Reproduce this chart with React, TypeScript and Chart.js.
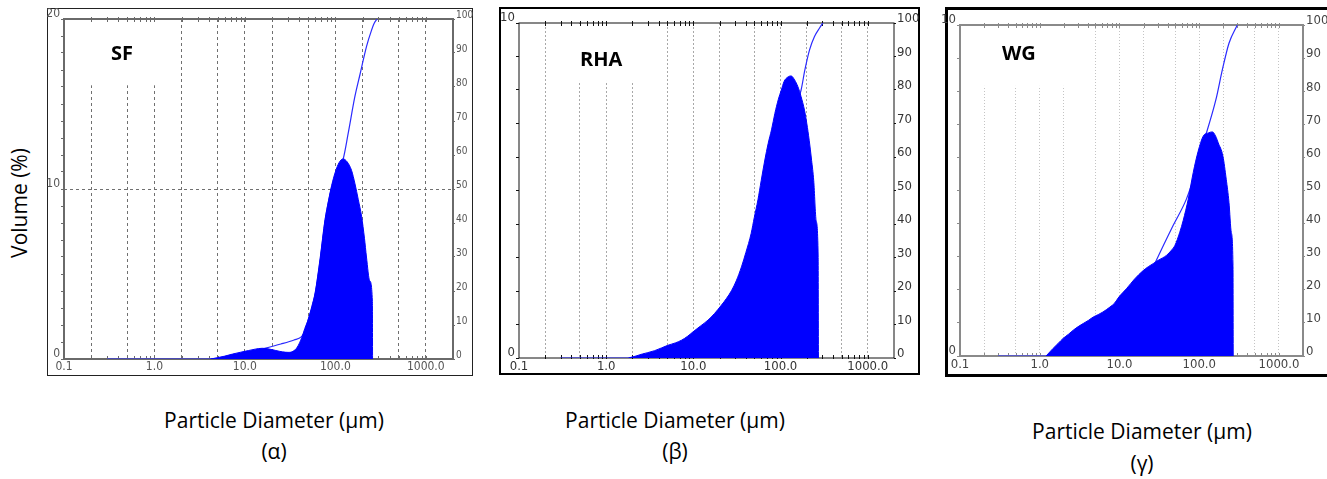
import React, { useEffect, useRef } from 'react';
import { Chart, registerables } from 'chart.js';

Chart.register(...registerables);

// ---------------- DATA ----------------
// X axis (particle diameter, µm, logarithmic)
const X_MIN = 0.1;
const X_MAX = 2000;
const X_GRID_VALUES = [0.2, 0.5, 1, 2, 5, 10, 20, 50, 100, 200, 500, 1000];
const X_LABEL_VALUES = [0.1, 1, 10, 100, 1000];
const X_LABEL_TEXT = ['0.1', '1.0', '10.0', '100.0', '1000.0'];
const X_DECADES = [0.1, 1, 10, 100, 1000];
const X_MINOR_STEPS = [1, 2, 3, 4, 5, 6, 7, 8, 9];

// Right axis (cumulative %)
const CUM_TICKS = [0, 10, 20, 30, 40, 50, 60, 70, 80, 90, 100];

// (α) SF — volume distribution (%) and cumulative (%)
const SF_DIAMETER = [4.2, 5, 6, 7.3, 9, 11, 13, 15.5, 18, 22, 26, 30, 34, 38, 42.6, 46, 50.4, 55, 59.8, 67.8, 76.9, 84, 91, 100, 110, 122, 135, 151, 165, 179, 195, 210, 221, 240, 257, 258];
const SF_VOLUME = [0, 0.08, 0.17, 0.29, 0.4, 0.5, 0.58, 0.63, 0.6, 0.5, 0.42, 0.39, 0.45, 0.7, 1.27, 1.8, 2.35, 3.1, 3.9, 5.9, 8.2, 9.3, 10.2, 11.0, 11.55, 11.77, 11.6, 11.1, 10.3, 9.4, 8.4, 7.1, 6.0, 4.6, 3.4, 0];
const SF_CUM_DIAMETER = [0.3, 4, 6, 8, 10, 13, 17, 25, 35, 42, 46, 50, 55, 60, 68, 77, 91, 105, 122, 139, 164, 187, 221, 250, 270, 290];
const SF_CUMULATIVE = [0, 0, 0.4, 0.9, 1.4, 2.2, 3.2, 4.4, 5.6, 6.5, 8, 11.5, 15, 19.2, 29, 40.5, 50.5, 55.5, 58.8, 66.5, 77, 83.6, 91.9, 96.5, 98.8, 100];

// (β) RHA
const RHA_DIAMETER = [1.8, 2.2, 2.6, 3, 3.6, 4.3, 5.1, 6.2, 7.3, 8.5, 9.9, 12, 14.7, 17.5, 21, 24, 27.5, 31, 35.6, 40, 46, 50, 55, 60, 66, 72, 78.7, 86, 94, 102, 110, 120, 132, 145, 158, 172, 188, 200, 213, 227, 240, 256, 270, 272];
const RHA_VOLUME = [0, 0.06, 0.12, 0.16, 0.22, 0.3, 0.38, 0.45, 0.53, 0.64, 0.78, 0.95, 1.13, 1.33, 1.58, 1.78, 2.02, 2.3, 2.72, 3.15, 3.72, 4.2, 4.72, 5.3, 5.91, 6.4, 6.81, 7.3, 7.71, 8.0, 8.26, 8.38, 8.42, 8.3, 8.1, 7.8, 7.4, 7.0, 6.5, 5.9, 5.3, 4.1, 3.0, 0];
const RHA_CUM_DIAMETER = [0.3, 1.8, 3, 5, 10, 20, 30, 50, 70, 100, 130, 150, 172, 190, 215, 245, 280, 305];
const RHA_CUMULATIVE = [0, 0, 0.3, 1.2, 3.8, 9, 15, 28, 41, 57, 69, 75, 80, 86, 92, 96, 98.5, 100];

// (γ) WG
const WG_DIAMETER = [1.2, 1.47, 1.7, 1.96, 2.3, 2.63, 3, 3.5, 4.1, 4.7, 5.4, 6.2, 7.6, 8.7, 9.8, 12.2, 15.5, 19.8, 23, 26.4, 30.5, 38.8, 45, 49.5, 57, 63, 72.8, 84, 97, 112, 130, 146, 160, 173, 198, 218, 236, 252, 265, 267];
const WG_VOLUME = [0, 0.23, 0.38, 0.53, 0.66, 0.78, 0.88, 0.98, 1.08, 1.18, 1.25, 1.33, 1.48, 1.6, 1.78, 2.03, 2.33, 2.58, 2.7, 2.79, 2.89, 3.04, 3.2, 3.34, 3.74, 4.1, 4.74, 5.54, 6.19, 6.64, 6.74, 6.77, 6.65, 6.44, 6.04, 5.34, 4.64, 3.74, 2.74, 0];
const WG_CUM_DIAMETER = [0.3, 1.2, 1.5, 2, 3, 5, 10, 15, 20, 25, 29, 47, 69, 84, 112, 123, 162, 195, 236, 300];
const WG_CUMULATIVE = [0, 0, 0.3, 1, 2.8, 5.5, 11, 16, 20.5, 25.5, 28.9, 39.4, 47.4, 53.4, 64.4, 67.4, 77.5, 86.5, 94.5, 100];

// ---------------- STYLE / LAYOUT ----------------
const TICK_FAMILY = "'Liberation Sans Narrow', 'DejaVu Sans Condensed', 'Liberation Sans', Arial, sans-serif";
const TEXT_FAMILY = "'Open Sans', 'Noto Sans', sans-serif";

const MINOR_TICKS: number[] = [];
X_DECADES.forEach((d) => X_MINOR_STEPS.forEach((m) => {
  const v = d * m;
  if (v > X_MIN * 1.0001 && v < X_MAX * 0.9999) MINOR_TICKS.push(v);
}));

type Panel = {
  key: string;
  canvas: { left: number; top: number; width: number; height: number };
  frame: { left: number; top: number; width: number; height: number; border: string };
  area: { top: number; left: number; right: number; bottom: number };
  yMax: number;
  yLabelEvery: number;
  hGrid: number[];
  gridColor: string;
  gridDash: number[];
  frameColor: string;
  frameWidth: number;
  tickSize: number;
  rightTickSize: number;
  tickColor: string;
  box: { x0: number; x1: number; y0: number };
  label: { text: string; left: number; top: number };
  distX: number[];
  distY: number[];
  cumX: number[];
  cumY: number[];
};

const PANELS: Panel[] = [
  {
    key: 'SF',
    canvas: { left: 41, top: 8, width: 432, height: 367 },
    frame: { left: 47, top: 8, width: 426, height: 368, border: '1px solid #222' },
    area: { top: 11, left: 23, right: 20, bottom: 16 },
    yMax: 20, yLabelEvery: 10, hGrid: [10],
    gridColor: '#707070', gridDash: [3, 3],
    frameColor: '#6a6a6a', frameWidth: 2,
    tickSize: 12, rightTickSize: 10, tickColor: '#555',
    box: { x0: 0.14, x1: 1.45, y0: 16.1 },
    label: { text: 'SF', left: 111, top: 43 },
    distX: SF_DIAMETER, distY: SF_VOLUME, cumX: SF_CUM_DIAMETER, cumY: SF_CUMULATIVE,
  },
  {
    key: 'RHA',
    canvas: { left: 496, top: 8, width: 423, height: 366 },
    frame: { left: 499, top: 7, width: 421, height: 368, border: '2px solid #000' },
    area: { top: 15, left: 23, right: 25, bottom: 16 },
    yMax: 10, yLabelEvery: 10, hGrid: [],
    gridColor: '#a8a8a8', gridDash: [2, 2],
    frameColor: '#111', frameWidth: 1,
    tickSize: 13, rightTickSize: 13, tickColor: '#333',
    box: { x0: 0.35, x1: 3.0, y0: 8.27 },
    label: { text: 'RHA', left: 580, top: 49 },
    distX: RHA_DIAMETER, distY: RHA_VOLUME, cumX: RHA_CUM_DIAMETER, cumY: RHA_CUMULATIVE,
  },
  {
    key: 'WG',
    canvas: { left: 938, top: 9, width: 389, height: 367 },
    frame: { left: 945, top: 7, width: 400, height: 370, border: '3px solid #000' },
    area: { top: 16, left: 22, right: 24, bottom: 20 },
    yMax: 10, yLabelEvery: 10, hGrid: [],
    gridColor: '#c4c4c4', gridDash: [1, 2],
    frameColor: '#8a8a8a', frameWidth: 2,
    tickSize: 13, rightTickSize: 13, tickColor: '#444',
    box: { x0: 0.15, x1: 3.2, y0: 8.16 },
    label: { text: 'WG', left: 1002, top: 43 },
    distX: WG_DIAMETER, distY: WG_VOLUME, cumX: WG_CUM_DIAMETER, cumY: WG_CUMULATIVE,
  },
];

const CAPTIONS = [
  { center: 274, top1: 410, top2: 441, sub: '(α)' },
  { center: 675, top1: 410, top2: 441, sub: '(β)' },
  { center: 1142, top1: 421, top2: 453, sub: '(γ)' },
];

const decorPlugin = {
  id: 'panelDecor',
  beforeDatasetsDraw(chart: any, _args: any, opts: any) {
    const { ctx, chartArea: a, scales } = chart;
    const x = scales.x;
    const y = scales.y;
    ctx.save();
    if (opts.box) {
      const x0 = x.getPixelForValue(opts.box.x0);
      const x1 = x.getPixelForValue(opts.box.x1);
      const y0 = y.getPixelForValue(opts.box.y0);
      ctx.fillStyle = '#ffffff';
      ctx.fillRect(x0, a.top + 1, x1 - x0, y0 - a.top - 1);
    }
    ctx.strokeStyle = opts.frameColor;
    ctx.lineWidth = opts.frameWidth;
    ctx.strokeRect(a.left, a.top, a.right - a.left, a.bottom - a.top);
    ctx.lineWidth = 1;
    ctx.strokeStyle = opts.tickColor;
    ctx.beginPath();
    MINOR_TICKS.forEach((v) => {
      const px = Math.round(x.getPixelForValue(v)) + 0.5;
      ctx.moveTo(px, a.top - 2);
      ctx.lineTo(px, a.top + 3);
      ctx.moveTo(px, a.bottom - 3);
      ctx.lineTo(px, a.bottom + 1);
    });
    ctx.stroke();
    ctx.restore();
  },
};

function xLabel(v: number): string {
  const i = X_LABEL_VALUES.findIndex((l) => Math.abs(l - v) < l * 1e-6);
  return i >= 0 ? X_LABEL_TEXT[i] : '';
}

function PanelChart({ p }: { p: Panel }) {
  const ref = useRef<HTMLCanvasElement | null>(null);
  useEffect(() => {
    if (!ref.current) return;
    const yTicks: number[] = [];
    for (let v = 0; v <= p.yMax; v += 1) yTicks.push(v);
    const tickFont = { family: TICK_FAMILY, size: p.tickSize };
    const rightFont = { family: TICK_FAMILY, size: p.rightTickSize };
    const chart = new Chart(ref.current, {
      type: 'line',
      data: {
        datasets: [
          {
            label: 'Volume',
            data: p.distX.map((x, i) => ({ x, y: p.distY[i] })),
            yAxisID: 'y',
            borderColor: '#0000ff',
            backgroundColor: '#0000ff',
            borderWidth: 1,
            pointRadius: 0,
            fill: 'origin',
            cubicInterpolationMode: 'monotone',
          },
          {
            label: 'Cumulative',
            data: p.cumX.map((x, i) => ({ x, y: p.cumY[i] })),
            yAxisID: 'y2',
            borderColor: '#2a2aff',
            borderWidth: 1.2,
            pointRadius: 0,
            fill: false,
            cubicInterpolationMode: 'monotone',
          },
        ],
      } as any,
      options: {
        animation: false,
        responsive: false,
        devicePixelRatio: 1,
        events: [],
        layout: { padding: { top: p.area.top, left: 0, right: 0, bottom: 0 } },
        plugins: {
          legend: { display: false },
          tooltip: { enabled: false },
          panelDecor: { box: p.box, frameColor: p.frameColor, frameWidth: p.frameWidth, tickColor: p.frameColor },
        } as any,
        scales: {
          x: {
            type: 'logarithmic',
            min: X_MIN,
            max: X_MAX,
            bounds: 'data',
            afterBuildTicks: (s: any) => {
              s.ticks = [X_MIN, ...X_GRID_VALUES, X_MAX].map((v) => ({ value: v }));
            },
            afterFit: (s: any) => { s.height = p.area.bottom; },
            ticks: {
              autoSkip: false, maxRotation: 0, minRotation: 0, padding: 1,
              font: tickFont, color: p.tickColor,
              callback: (v: any) => xLabel(Number(v)),
            },
            grid: {
              display: true, drawTicks: false, lineWidth: 1,
              color: (c: any) => (c.tick && X_GRID_VALUES.includes(c.tick.value) ? p.gridColor : 'rgba(0,0,0,0)'),
            },
            border: { display: false, dash: p.gridDash },
          },
          y: {
            type: 'linear',
            position: 'left',
            min: 0,
            max: p.yMax,
            afterBuildTicks: (s: any) => { s.ticks = yTicks.map((v) => ({ value: v })); },
            afterFit: (s: any) => { s.width = p.area.left; },
            ticks: {
              autoSkip: false, padding: 1, labelOffset: -5,
              font: tickFont, color: p.tickColor,
              callback: (v: any) => (Number(v) % p.yLabelEvery === 0 ? String(v) : ''),
            },
            grid: {
              drawTicks: true, tickLength: 3, tickColor: p.frameColor, lineWidth: 1,
              color: (c: any) => (c.tick && p.hGrid.includes(c.tick.value) ? p.gridColor : 'rgba(0,0,0,0)'),
            },
            border: { display: false, dash: p.gridDash },
          },
          y2: {
            type: 'linear',
            position: 'right',
            min: 0,
            max: 100,
            afterBuildTicks: (s: any) => { s.ticks = CUM_TICKS.map((v) => ({ value: v })); },
            afterFit: (s: any) => { s.width = p.area.right; },
            ticks: {
              autoSkip: false, padding: 1, labelOffset: -4,
              font: rightFont, color: p.tickColor,
              callback: (v: any) => String(v),
            },
            grid: { drawOnChartArea: false, drawTicks: true, tickLength: 2, tickColor: p.frameColor },
            border: { display: false },
          },
        },
      } as any,
      plugins: [decorPlugin as any],
    });
    return () => chart.destroy();
  }, [p]);

  return (
    <>
      <div
        style={{
          position: 'absolute', left: p.frame.left, top: p.frame.top,
          width: p.frame.width, height: p.frame.height, border: p.frame.border,
          boxSizing: 'border-box',
        }}
      />
      <canvas
        ref={ref}
        width={p.canvas.width}
        height={p.canvas.height}
        style={{
          position: 'absolute', left: p.canvas.left, top: p.canvas.top,
          width: p.canvas.width, height: p.canvas.height,
        }}
      />
      <div
        style={{
          position: 'absolute', left: p.label.left, top: p.label.top,
          font: `700 20px/20px ${TEXT_FAMILY}`, color: '#000', whiteSpace: 'nowrap',
        }}
      >
        {p.label.text}
      </div>
    </>
  );
}

export default function App() {
  return (
    <div
      style={{
        position: 'absolute', left: 0, top: 0, width: 1327, height: 479,
        overflow: 'hidden', background: '#fff',
      }}
    >
      {PANELS.map((p) => <PanelChart key={p.key} p={p} />)}
      <div
        style={{
          position: 'absolute', left: 19, top: 203,
          transform: 'translate(-50%, -50%) rotate(-90deg)',
          font: `400 21px/21px ${TEXT_FAMILY}`, color: '#000', whiteSpace: 'nowrap',
        }}
      >
        Volume (%)
      </div>
      {CAPTIONS.map((c) => (
        <React.Fragment key={c.sub}>
          <div
            style={{
              position: 'absolute', left: c.center - 150, top: c.top1, width: 300,
              textAlign: 'center', font: `400 21px/21px ${TEXT_FAMILY}`, color: '#000', whiteSpace: 'nowrap',
            }}
          >
            Particle Diameter (µm)
          </div>
          <div
            style={{
              position: 'absolute', left: c.center - 150, top: c.top2, width: 300,
              textAlign: 'center', font: `400 21px/21px ${TEXT_FAMILY}`, color: '#000', whiteSpace: 'nowrap',
            }}
          >
            {c.sub}
          </div>
        </React.Fragment>
      ))}
    </div>
  );
}
